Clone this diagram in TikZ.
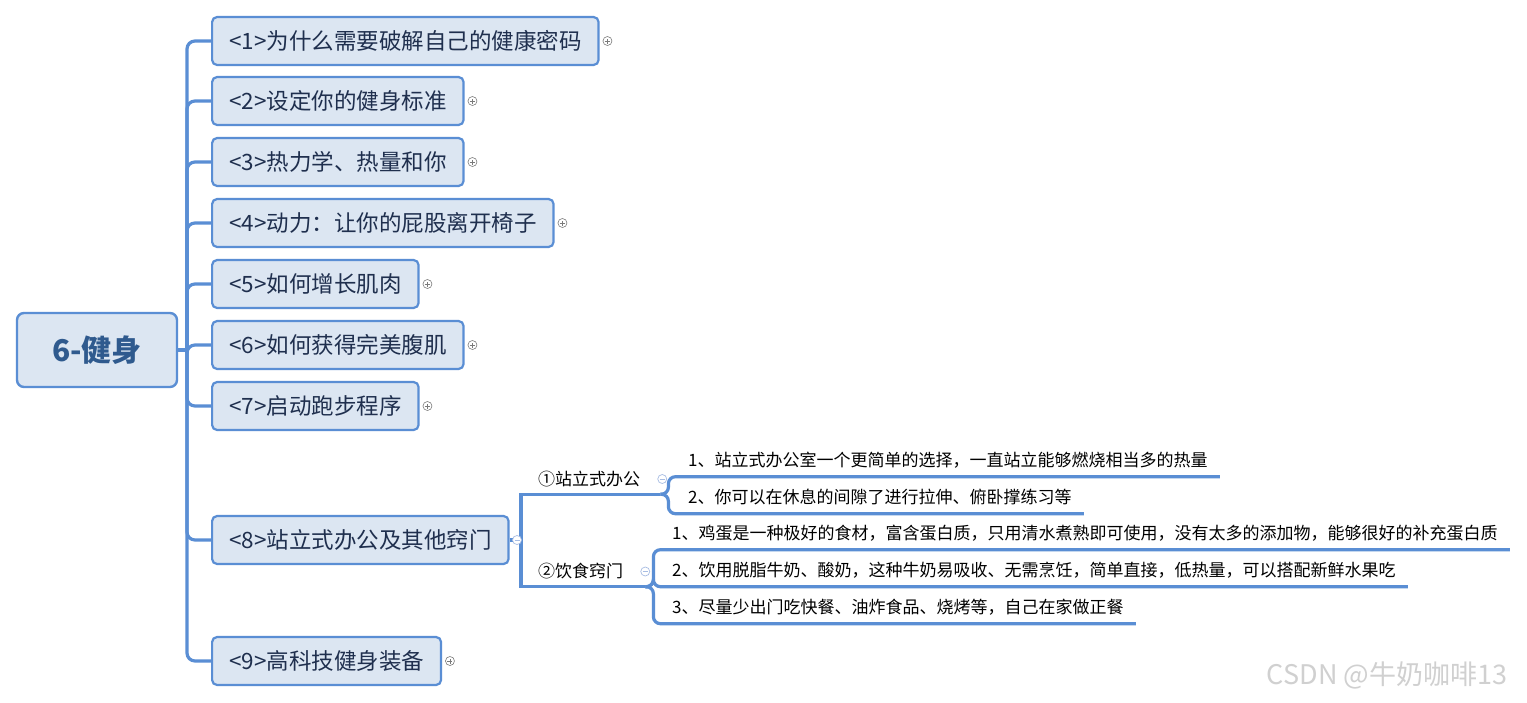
\documentclass[tikz,border=0pt]{standalone}
\usepackage{fontspec}
\setmainfont{Noto Sans CJK SC}
\usepackage{tikz}
\usetikzlibrary{positioning}
\definecolor{mapblue}{HTML}{5A8ED4}
\definecolor{mapfill}{HTML}{DCE6F2}
\definecolor{mapink}{HTML}{1F2F4E}
\definecolor{rootink}{HTML}{2F5A8E}
\definecolor{marktint}{HTML}{A8BDE3}
\definecolor{marksign}{HTML}{7A7A7A}
\definecolor{stampgray}{HTML}{D0D0D0}

\tikzset{
  topic/.style={draw=mapblue,fill=mapfill,line width=2.2pt,rounded corners=5pt,
    anchor=west,minimum height=48pt,inner xsep=17pt,text=mapink,
    font=\fontsize{22.5}{26}\selectfont},
  subtopic/.style={anchor=west,inner xsep=0pt,inner ysep=0pt,minimum height=30pt,
    font=\fontsize{17}{20}\selectfont},
  leaf/.style={anchor=west,inner xsep=0pt,inner ysep=0pt,minimum height=33pt,
    font=\fontsize{17}{20}\selectfont},
  link/.style={draw=mapblue,line width=3.2pt},
  plusicon/.style={circle,draw=marksign,fill=white,line width=0.6pt,minimum size=9pt,inner sep=0pt,
    path picture={\draw[marksign,line width=0.7pt]
      ([xshift=-2.5pt]path picture bounding box.center) -- ([xshift=2.5pt]path picture bounding box.center)
      ([yshift=-2.5pt]path picture bounding box.center) -- ([yshift=2.5pt]path picture bounding box.center);}},
  minusicon/.style={circle,draw=marktint,fill=white,line width=0.7pt,minimum size=9pt,inner sep=0pt,
    path picture={\draw[marktint,line width=0.8pt]
      ([xshift=-2.5pt]path picture bounding box.center) -- ([xshift=2.5pt]path picture bounding box.center);}}
}

\begin{document}
\begin{tikzpicture}[x=1pt,y=-1pt]
  \useasboundingbox (0,0) rectangle (1527,702);
  \fill[white] (0,0) rectangle (1527,702);

  % centre topic
  \node[draw=mapblue,fill=mapfill,line width=2.4pt,rounded corners=7pt,
    minimum width=160pt,minimum height=74pt,text=rootink,
    font=\fontsize{30}{34}\selectfont\bfseries] (root) at (97,350) {6-健身};

  % chapters
  \node[topic] (b1) at (211,41) {<1>为什么需要破解自己的健康密码};
  \node[topic] (b2) at (211,101) {<2>设定你的健身标准};
  \node[topic] (b3) at (211,162) {<3>热力学、热量和你};
  \node[topic] (b4) at (211,223) {<4>动力：让你的屁股离开椅子};
  \node[topic] (b5) at (211,284) {<5>如何增长肌肉};
  \node[topic] (b6) at (211,345) {<6>如何获得完美腹肌};
  \node[topic] (b7) at (211,406) {<7>启动跑步程序};
  \node[topic] (b8) at (211,540) {<8>站立式办公及其他窍门};
  \node[topic] (b9) at (211,661) {<9>高科技健身装备};

  \coordinate (hub) at (187,350);
  \draw[link] (root.east) -- (hub);
  \foreach \b in {b1,b2,b3,b4,b5,b6,b7,b8,b9}
    \draw[link,rounded corners=8pt] (hub) |- (\b.west);

  % chapter 8 details
  \node[subtopic] (s1) at (538,479) {①站立式办公};
  \node[subtopic] (s2) at (538,571.5) {②饮食窍门};
  \coordinate (hub8) at (521,540);
  \draw[link] (b8.east) -- (hub8);
  \draw[link] (hub8) |- ([xshift=20pt]s1.south east);
  \draw[link] (hub8) |- ([xshift=22pt]s2.south east);

  \node[leaf] (l11) at (688,460) {1、站立式办公室一个更简单的选择，一直站立能够燃烧相当多的热量};
  \node[leaf] (l12) at (688,497) {2、你可以在休息的间隙了进行拉伸、俯卧撑练习等};
  \node[leaf] (l21) at (672,533) {1、鸡蛋是一种极好的食材，富含蛋白质，只用清水煮熟即可使用，没有太多的添加物，能够很好的补充蛋白质};
  \node[leaf] (l22) at (672,570) {2、饮用脱脂牛奶、酸奶，这种牛奶易吸收、无需烹饪，简单直接，低热量，可以搭配新鲜水果吃};
  \node[leaf] (l23) at (672,607) {3、尽量少出门吃快餐、油炸食品、烧烤等，自己在家做正餐};

  \foreach \l in {l11,l12}
    \draw[link,rounded corners=7pt] ([xshift=20pt]s1.south east) -- ++(8,0) |- ([xshift=12pt]\l.south east);
  \foreach \l in {l21,l22,l23}
    \draw[link,rounded corners=7pt] ([xshift=22pt]s2.south east) -- ++(8,0) |- ([xshift=12pt]\l.south east);

  % fold marks
  \foreach \b in {b1,b2,b3,b4,b5,b6,b7,b9}
    \node[plusicon,right=3pt of \b] {};
  \node[minusicon,right=2.5pt of b8] {};
  \node[minusicon,right=17pt of s1] {};
  \node[minusicon,right=17pt of s2] {};

  \node[text=stampgray,font=\fontsize{27}{32}\selectfont] (stamp) at (1387,675) {CSDN @牛奶咖啡13};
\end{tikzpicture}
\end{document}
